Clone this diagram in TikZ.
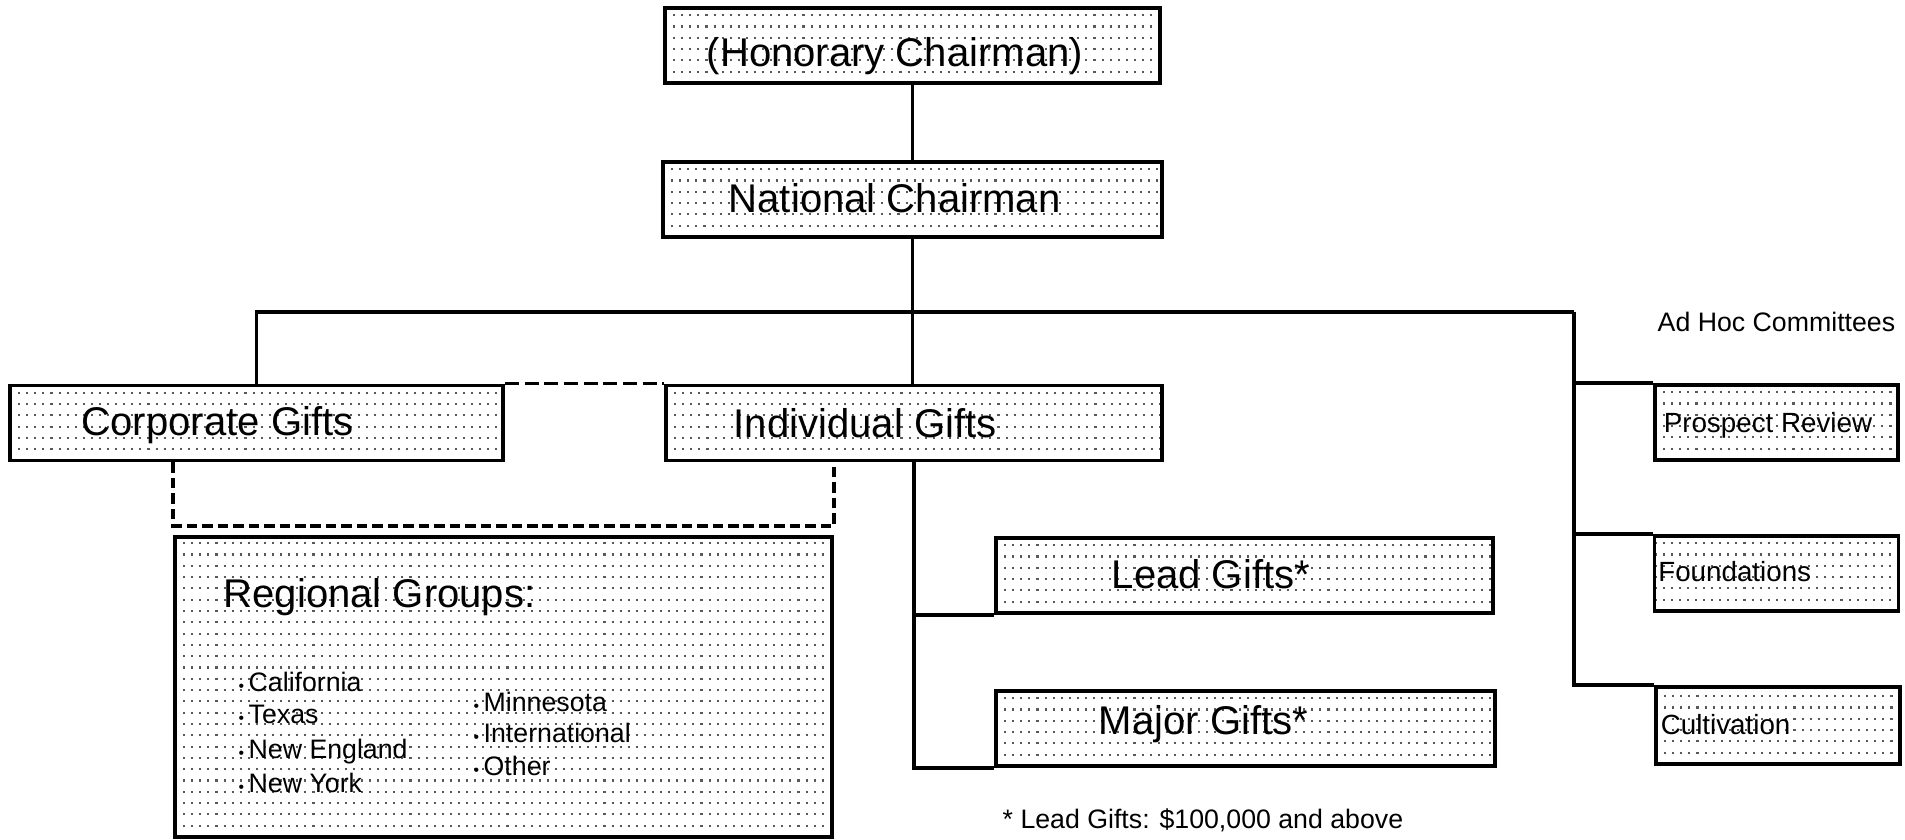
\documentclass[tikz,border=0pt]{standalone}
\usepackage{fontspec}
\setmainfont{Liberation Sans}
\usepackage{tikz}
\usetikzlibrary{positioning,calc}

\tikzset{
	box/.style={draw,line width=1.1pt,minimum height=0.75cm,inner sep=0pt,stipple},
	stipple/.style={path picture={
		\foreach \k in {1,...,27}
			\draw [black!65,line width=0.6pt,dash pattern=on 0.6pt off 1.7pt]
				([yshift=\k*0.113cm]path picture bounding box.south west) -- ([yshift=\k*0.113cm]path picture bounding box.south east);
	}},
	biglbl/.style={anchor=base west,inner sep=0pt,font=\fontsize{11.4}{13}\selectfont},
	smalllbl/.style={anchor=base west,inner sep=0pt,font=\fontsize{7.9}{9}\selectfont},
	itemlbl/.style={anchor=base west,inner sep=0pt,font=\fontsize{7.6}{9}\selectfont},
	link/.style={line width=1pt},
	gap/.style={line width=1pt,dash pattern=on 3pt off 1.4pt},
}
\newcommand{\regitem}[1]{{\fontsize{4.5}{5}\selectfont\textbullet}\,#1}

\begin{document}
\begin{tikzpicture}
	\fill [white] (0,0) rectangle (19.05,8.4);
	\useasboundingbox (0,0) rectangle (19.05,8.4);
	% boxes
	\node (hon) at (9.125,7.945) [box,minimum width=4.95cm] {};
	\node (nat) at (9.125,6.405) [box,minimum width=4.99cm] {};
	\node (corp) at (2.565,4.17) [box,minimum width=4.93cm] {};
	\node (indiv) at (9.14,4.17) [box,minimum width=4.96cm] {};
	\node (reg) at (5.035,1.53) [box,minimum width=6.57cm,minimum height=3.0cm] {};
	\node (lead) at (12.445,2.645) [box,minimum width=4.97cm] {};
	\node (major) at (12.455,1.115) [box,minimum width=4.99cm] {};
	\node (pros) at (17.765,4.175) [box,minimum width=2.43cm] {};
	\node (found) at (17.765,2.665) [box,minimum width=2.44cm] {};
	\node (cult) at (17.78,1.145) [box,minimum width=2.44cm,minimum height=0.77cm] {};
	% box texts
	\node (hon-t) at ([shift={(0.43,-0.215)}]hon.west) [biglbl] {(Honorary Chairman)};
	\node (nat-t) at ([shift={(0.67,-0.135)}]nat.west) [biglbl] {National Chairman};
	\node (corp-t) at ([shift={(0.73,-0.13)}]corp.west) [biglbl] {Corporate Gifts};
	\node (indiv-t) at ([shift={(0.69,-0.15)}]indiv.west) [biglbl] {Individual Gifts};
	\node (lead-t) at ([shift={(1.17,-0.135)}]lead.west) [biglbl] {Lead Gifts*};
	\node (major-t) at ([shift={(1.04,-0.06)}]major.west) [biglbl] {Major Gifts*};
	\node (pros-t) at ([shift={(0.10,-0.105)}]pros.west) [smalllbl] {Prospect Review};
	\node (found-t) at ([shift={(0.05,-0.085)}]found.west) [smalllbl] {Foundations};
	\node (cult-t) at ([shift={(0.06,-0.095)}]cult.west) [smalllbl] {Cultivation};
	% regional groups
	\node (reg-t) at (2.23,2.32) [biglbl] {Regional Groups:};
	\node (cal) at (2.38,1.48) [itemlbl] {\regitem{California}};
	\node (tex) at (2.38,1.16) [itemlbl] {\regitem{Texas}};
	\node (neng) at (2.38,0.81) [itemlbl] {\regitem{New England}};
	\node (nyork) at (2.38,0.47) [itemlbl] {\regitem{New York}};
	\node (minn) at (4.73,1.28) [itemlbl] {\regitem{Minnesota}};
	\node (intl) at (4.73,0.97) [itemlbl] {\regitem{International}};
	\node (other) at (4.73,0.64) [itemlbl] {\regitem{Other}};
	% other texts
	\node (adhoc-t) at (16.57,5.08) [smalllbl,font=\fontsize{7.6}{9}\selectfont] {Ad Hoc Committees};
	\node (note) at (10.02,0.12) [itemlbl] {* Lead Gifts: \$100,000 and above};
	% connectors
	\coordinate (adhoc) at (15.74,5.28);
	\draw [link] (hon.south) -- (nat.north);
	\draw [link] (nat.south) -- (nat.south |- indiv.north);
	\draw [link] (corp.north) |- (adhoc);
	\draw [link] (adhoc) |- (cult.north west);
	\draw [link] (adhoc |- pros.north west) -- (pros.north west);
	\draw [link] (adhoc |- found.north west) -- (found.north west);
	\draw [link] (indiv.south) |- (major.south west);
	\draw [link] (indiv.south |- lead.south west) -- (lead.south west);
	\draw [gap,dash pattern=on 4pt off 1.6pt] (corp.north east) -- (indiv.north west);
	\draw [gap] (corp.south -| reg.west) -- ([yshift=0.09cm]reg.north west) -- ([yshift=0.09cm]reg.north east) -- (indiv.south -| reg.east);
\end{tikzpicture}
\end{document}
